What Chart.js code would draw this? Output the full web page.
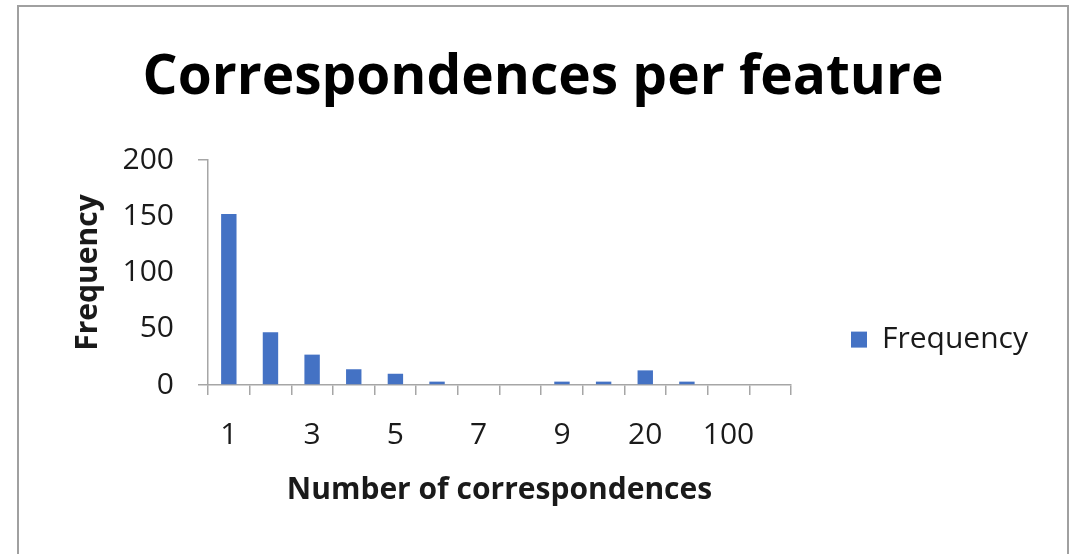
<!DOCTYPE html>
<html>
<head>
<meta charset="utf-8">
<script src="https://cdn.jsdelivr.net/npm/chart.js@4.4.0/dist/chart.umd.min.js"></script>
<style>
  html, body { margin: 0; padding: 0; background: #fff; overflow: hidden; }
  #wrap { position: relative; width: 1076px; height: 554px; }
  #frame { position: absolute; left: 17px; top: 5px; width: 1052px; height: 600px; border: 2px solid #a0a0a0; box-sizing: border-box; pointer-events: none; }
  canvas { position: absolute; left: 0; top: 0; }
</style>
</head>
<body>
<div id="wrap">
  <canvas id="c" width="1076" height="554"></canvas>
  <div id="frame"></div>
</div>
<script>
const categories = ['1', '2', '3', '4', '5', '6', '7', '8', '9', '10', '20', '50', '100', 'More'];
const frequency = [152, 47, 27, 14, 10, 3, 0, 0, 3, 3, 13, 3, 0, 0];
const yTicks = [0, 50, 100, 150, 200];

const AXIS = '#a6a6a6';
const TXT = '#1a1a1a';
const FONT = "'Open Sans', 'DejaVu Sans', sans-serif";

new Chart(document.getElementById('c'), {
  type: 'bar',
  data: {
    labels: categories,
    datasets: [{
      label: 'Frequency',
      data: frequency,
      backgroundColor: '#4472C4',
      borderWidth: 0,
      barPercentage: 0.37,
      categoryPercentage: 1.0
    }]
  },
  options: {
    responsive: false,
    animation: false,
    devicePixelRatio: 1,
    layout: { padding: { left: 48, right: 38, top: 0, bottom: 0 } },
    plugins: {
      title: {
        display: true,
        text: 'Correspondences per feature',
        color: '#000',
        font: { family: FONT, size: 55, weight: 'bold' },
        padding: { top: 45, bottom: 49 }
      },
      legend: {
        display: true,
        position: 'right',
        align: 'center',
        title: { display: true, text: '', padding: { top: 62, bottom: 62 }, font: { size: 1 } },
        labels: {
          color: TXT,
          font: { family: FONT, size: 30 },
          boxWidth: 16,
          boxHeight: 16,
          padding: 60
        }
      },
      tooltip: { enabled: false }
    },
    scales: {
      x: {
        afterFit: (s) => { s.height = 554 - 385; },
        grid: {
          offset: true,
          drawOnChartArea: false,
          drawTicks: true,
          tickLength: 10,
          color: AXIS,
          lineWidth: 1.5
        },
        border: { display: true, color: AXIS, width: 1.5 },
        ticks: {
          color: TXT,
          font: { family: FONT, size: 30 },
          padding: 22,
          autoSkip: false,
          maxRotation: 0,
          callback: function (v, i) { return i % 2 === 0 ? categories[i] : ''; }
        },
        title: {
          display: true,
          text: 'Number of correspondences',
          color: TXT,
          font: { family: FONT, size: 30, weight: 'bold' },
          padding: { top: 0, bottom: 46 }
        }
      },
      y: {
        min: 0,
        max: 200,
        afterFit: (s) => { s.width = 160; },
        afterBuildTicks: (s) => { s.ticks = yTicks.map(v => ({ value: v })); },
        grid: {
          drawOnChartArea: false,
          drawTicks: true,
          tickLength: 10,
          lineWidth: 1.5,
          color: (ctx) => (ctx.tick && (ctx.tick.value === 0 || ctx.tick.value === 200)) ? AXIS : 'rgba(0,0,0,0)'
        },
        border: { display: true, color: AXIS, width: 1.5 },
        ticks: {
          color: TXT,
          font: { family: FONT, size: 30 },
          padding: 24
        },
        title: {
          display: true,
          text: 'Frequency',
          color: TXT,
          font: { family: FONT, size: 30, weight: 'bold' },
          padding: { top: 22, bottom: 0 }
        }
      }
    }
  }
});
</script>
</body>
</html>
